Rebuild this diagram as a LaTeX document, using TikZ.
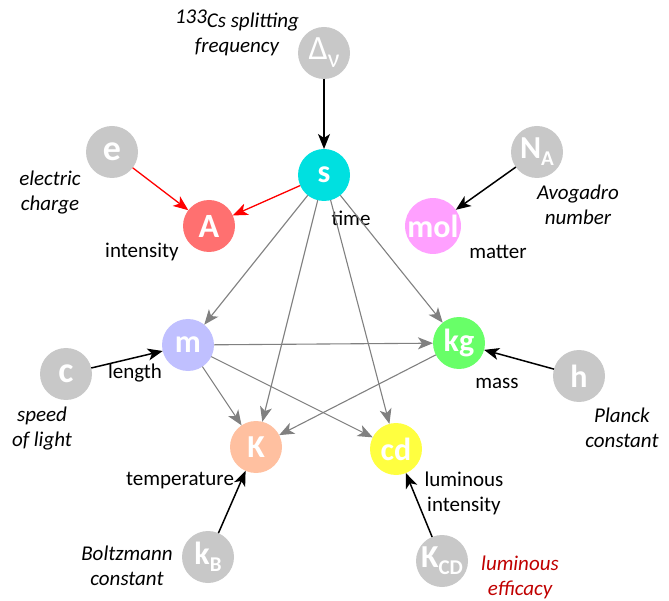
\documentclass[tikz,border=0pt]{standalone}
\usepackage{fontspec}
\setmainfont{Carlito}
\usetikzlibrary{arrows.meta}
\definecolor{cS}{RGB}{0,224,224}
\definecolor{cA}{RGB}{255,112,112}
\definecolor{cMol}{RGB}{255,160,255}
\definecolor{cM}{RGB}{192,192,255}
\definecolor{cKg}{RGB}{104,255,104}
\definecolor{cK}{RGB}{255,192,160}
\definecolor{cCd}{RGB}{255,255,64}
\definecolor{cGrey}{RGB}{200,200,200}
\definecolor{cArr}{RGB}{128,128,128}
\definecolor{cRed}{RGB}{192,0,0}
\newcommand{\lowidx}[1]{\raisebox{-7pt}{\fontsize{21}{21}\selectfont #1}}
\begin{document}
\begin{tikzpicture}[x=1pt,y=-1pt,
  unit/.style={circle, minimum size=52pt, inner sep=0pt, outer sep=0pt, text=white, font=\fontsize{32}{32}\selectfont\bfseries},
  const/.style={unit, fill=cGrey},
  lbl/.style={font=\fontsize{21}{25}\selectfont, align=center, inner sep=0pt},
  ilbl/.style={font=\fontsize{21}{25}\selectfont\itshape, align=center, inner sep=0pt},
  tipa/.style={-{Stealth[length=15pt,width=12pt,inset=4pt]}},
  garr/.style={tipa, draw=cArr, line width=1.1pt},
  barr/.style={tipa, draw=black, line width=1.5pt},
  rarr/.style={tipa, draw=red, line width=1.3pt},
]
\useasboundingbox (0,0) rectangle (669,601);
% units
\node[unit, fill=cS] (s) at (324,175) {s};
\node[unit, fill=cA] (A) at (209,226) {\fontsize{34}{34}\selectfont A};
\node[unit, fill=cMol] (mol) at (433,226) {mol};
\node[unit, fill=cM] (m) at (188,345) {m};
\node[unit, fill=cKg] (kg) at (459,343) {kg};
\node[unit, fill=cK] (K) at (256,447) {K};
\node[unit, fill=cCd] (cd) at (396,449) {cd};
% constants
\node[const, font=\fontsize{34}{34}\selectfont] (dnu) at (324,53) {Δ\raisebox{-8pt}{\fontsize{26}{26}\selectfont ν}};
\node[const, font=\fontsize{36}{36}\selectfont\bfseries] (e) at (112,152) {e};
\node[const] (NA) at (537,152) {N\lowidx{A}};
\node[const, font=\fontsize{36}{36}\selectfont\bfseries] (c) at (66,374) {c};
\node[const] (h) at (579,376) {h};
\node[const] (kB) at (208,557) {k\lowidx{B}};
\node[const] (KCD) at (442,561) {K\lowidx{CD}};
% labels
\node[ilbl] (tcs) at (237,33) {\raisebox{4pt}{133}Cs splitting\\frequency};
\node[ilbl] (tel) at (50,193) {electric\\charge};
\node[lbl] (tint) at (142,252) {intensity};
\node[ilbl] (tav) at (578,205) {Avogadro\\number};
\node[lbl] (tmat) at (498,252) {matter};
\node[lbl] (ttime) at (351,218) {time};
\node[lbl] (tlen) at (135,373) {length};
\node[ilbl] (tsp) at (42,429) {speed\\of light};
\node[lbl] (tmass) at (497,383) {mass};
\node[ilbl] (tpl) at (622,428) {Planck\\constant};
\node[lbl] (ttemp) at (180,481) {temperature};
\node[ilbl] (tbo) at (127,566) {Boltzmann\\constant};
\node[lbl] (tlum) at (464,493) {luminous\\intensity};
\node[ilbl, text=cRed] (tlef) at (520,577) {luminous\\efficacy};
% gray derivations
\draw[garr] (s) -- (m);
\draw[garr] (s) -- (K);
\draw[garr] (s) -- (cd);
\draw[garr] (s) -- (kg);
\draw[garr] (m) -- (kg);
\draw[garr] (m) -- (K);
\draw[garr] (m) -- (cd);
\draw[garr] (kg) -- (K);
% red
\draw[rarr] (e) -- (A);
\draw[rarr] (s) -- (A);
% black
\draw[barr] (dnu) -- (s);
\draw[barr] (NA) -- (mol);
\draw[barr] (c) -- (m);
\draw[barr] (h) -- (kg);
\draw[barr] (kB) -- (K);
\draw[barr] (KCD) -- (cd);
\end{tikzpicture}
\end{document}
